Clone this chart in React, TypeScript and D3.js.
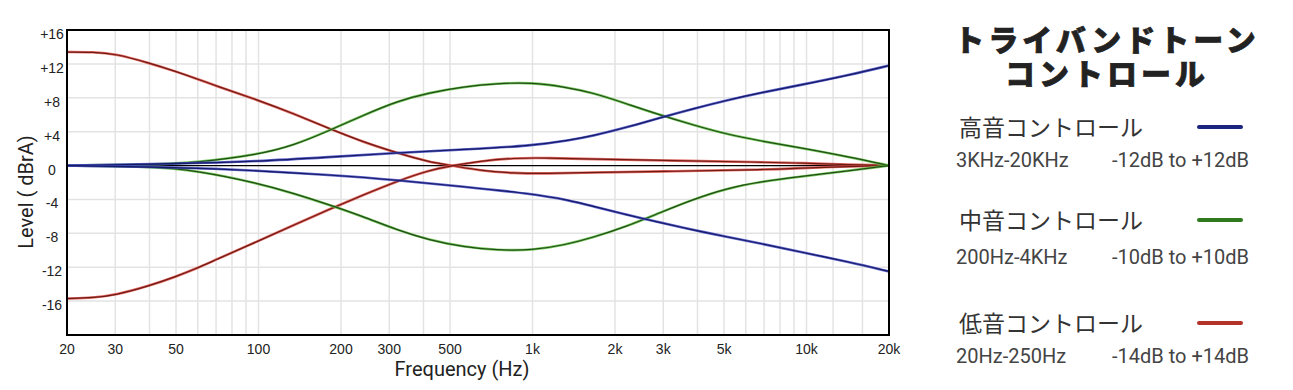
import { curveBasis, line as d3_line, scaleLinear, scaleLog } from "d3";
import type { FC } from "react";

// frequency axis
const freqTicks = [20, 30, 50, 100, 200, 300, 500, 1000, 2000, 3000, 5000, 10000, 20000];
const freqTickLabels = ["20", "30", "50", "100", "200", "300", "500", "1k", "2k", "3k", "5k", "10k", "20k"];
const gridFreqs = [
  30, 40, 50, 60, 70, 80, 90, 100, 200, 300, 400, 500, 1000, 2000, 3000, 4000,
  5000, 6000, 7000, 8000, 9000, 10000, 12500, 16000,
];

// level axis
const levelTicks = [16, 12, 8, 4, 0, -4, -8, -12, -16];
const levelTickLabels = ["+16", "+12", "+8", "+4", "0", "-4", "-8", "-12", "-16"];

// [Hz, dB]
const bassBoost: [number, number][] = [
  [20, 13.4], [25, 13.4], [30, 13.2], [40, 12.1], [50, 11.1], [60, 10.2], [70, 9.4],
  [100, 7.7], [135, 6.1], [180, 4.4], [240, 2.8], [320, 1.5], [420, 0.4],
  [510, 0], [640, -0.6], [850, -0.9], [1130, -0.95], [1400, -0.85], [3000, -0.7],
  [6800, -0.5], [9500, -0.3], [14400, -0.1], [20000, 0], [20000, 0],
];
const bassCut: [number, number][] = [
  [20, -15.7], [25, -15.6], [30, -15.3], [40, -14.2], [50, -13.1], [60, -12.1],
  [70, -11.1], [100, -8.9], [135, -7.0], [180, -5.2], [240, -3.5],
  [320, -1.85], [420, -0.55], [510, 0], [640, 0.5], [850, 0.9], [1130, 0.9],
  [1400, 0.8], [3000, 0.6], [6800, 0.4], [9500, 0.3], [14400, 0.1], [20000, 0], [20000, 0],
];
const midBoost: [number, number][] = [
  [20, 0], [20, 0], [40, 0.1], [60, 0.35], [100, 1.3], [135, 2.4], [180, 4.1],
  [240, 5.9], [320, 7.6], [420, 8.6], [560, 9.3], [740, 9.7], [1000, 9.8],
  [1300, 9.3], [1660, 8.6], [2200, 7.3], [2900, 6.0], [3850, 4.8],
  [5100, 3.7], [6800, 2.9], [9500, 2.1], [14400, 1.0], [20000, 0], [20000, 0],
];
const midCut: [number, number][] = [
  [20, 0], [20, 0], [40, -0.1], [60, -0.6], [100, -2.1], [135, -3.3], [180, -4.6],
  [240, -6.0], [320, -7.6], [420, -8.8], [560, -9.6], [740, -10.0], [1000, -10.0],
  [1300, -9.4], [1660, -8.5], [2200, -7.2], [2900, -5.6],
  [3850, -4.0], [5100, -2.7], [6800, -1.9], [9500, -1.3], [14400, -0.6], [20000, 0], [20000, 0],
];
const trebleBoost: [number, number][] = [
  [20, 0], [20, 0], [50, 0.2], [100, 0.5], [180, 1.0], [320, 1.5], [560, 1.9], [980, 2.3],
  [1370, 3.0], [1660, 3.5], [2200, 4.5], [2900, 5.6], [3850, 6.7],
  [5100, 7.7], [6800, 8.6], [9500, 9.5], [14400, 10.7], [20000, 11.8], [20000, 11.8],
];
const trebleCut: [number, number][] = [
  [20, 0], [20, 0], [50, -0.2], [100, -0.6], [180, -1.1], [320, -1.7], [560, -2.5], [980, -3.3],
  [1370, -4.1], [1660, -4.8], [2200, -5.8], [2900, -6.7], [3850, -7.6],
  [5100, -8.4], [6800, -9.2], [9500, -10.2], [14400, -11.4], [20000, -12.5], [20000, -12.5],
];

// legend
const titleLines = ["トライバンドトーン", "コントロール"];
const bandNames = ["高音コントロール", "中音コントロール", "低音コントロール"];
const bandRanges = ["3KHz-20KHz", "200Hz-4KHz", "20Hz-250Hz"];
const bandGains = ["-12dB to +12dB", "-10dB to +10dB", "-14dB to +14dB"];
const bandColors = ["#1c2580", "#2f7a1d", "#b3322a"];

const curveStyles = {
  blue: { halo: "#4248c0", core: "#151a66" },
  green: { halo: "#62c044", core: "#214d16" },
  red: { halo: "#dc5048", core: "#701a14" },
};

const curves = [
  { data: bassBoost, style: curveStyles.red },
  { data: bassCut, style: curveStyles.red },
  { data: midBoost, style: curveStyles.green },
  { data: midCut, style: curveStyles.green },
  { data: trebleBoost, style: curveStyles.blue },
  { data: trebleCut, style: curveStyles.blue },
];

const W = 1293;
const H = 390;
const plot = { left: 67, right: 889, top: 30, bottom: 335 };

const App: FC = () => {
  const x = scaleLog().domain([20, 20000]).range([plot.left, plot.right]);
  const y = scaleLinear().domain([-20, 16]).range([plot.bottom, plot.top]);

  const path = d3_line<[number, number]>()
    .x((d) => x(d[0]))
    .y((d) => y(d[1]))
    .curve(curveBasis);

  const tickFont = "'Liberation Sans', Arial, sans-serif";
  const titleFont = "Roboto, 'Noto Sans', sans-serif";
  const jpFont = "'Noto Sans CJK JP', 'Noto Sans', sans-serif";

  const itemY = [126, 219, 322];
  const rangeY = [160, 257, 356];

  return (
    <svg
      width={W}
      height={H}
      style={{ position: "absolute", left: 0, top: 0, background: "#fff" }}
    >
      {/* grid */}
      {gridFreqs.map((f) => (
        <line
          key={`gx${f}`}
          x1={x(f)}
          x2={x(f)}
          y1={plot.top}
          y2={plot.bottom}
          stroke="#e3e3e3"
          strokeWidth={1.5}
        />
      ))}
      {levelTicks
        .filter((v) => v !== 16 && v !== 0)
        .map((v) => (
          <line
            key={`gy${v}`}
            x1={plot.left}
            x2={plot.right}
            y1={y(v)}
            y2={y(v)}
            stroke="#e3e3e3"
            strokeWidth={1.5}
          />
        ))}
      <line x1={plot.left} x2={plot.right} y1={y(0)} y2={y(0)} stroke="#000" strokeWidth={1.3} />

      {/* curves */}
      {curves.map((c, i) => (
        <g key={i} fill="none">
          <path d={path(c.data) ?? ""} stroke={c.style.halo} strokeWidth={2.6} opacity={0.85} />
          <path d={path(c.data) ?? ""} stroke={c.style.core} strokeWidth={1.2} />
        </g>
      ))}

      {/* frame */}
      <rect
        x={plot.left}
        y={plot.top}
        width={plot.right - plot.left}
        height={plot.bottom - plot.top}
        fill="none"
        stroke="#000"
        strokeWidth={2}
      />

      {/* y ticks */}
      {levelTicks.map((v, i) => (
        <text
          key={`yt${v}`}
          x={52}
          y={y(v) + 4}
          textAnchor="middle"
          dominantBaseline="central"
          fontFamily={tickFont}
          fontSize={14}
          fill="#222"
        >
          {levelTickLabels[i]}
        </text>
      ))}
      {/* x ticks */}
      {freqTicks.map((f, i) => (
        <text
          key={`xt${f}`}
          x={x(f)}
          y={349}
          textAnchor="middle"
          dominantBaseline="central"
          fontFamily={tickFont}
          fontSize={14}
          fill="#222"
        >
          {freqTickLabels[i]}
        </text>
      ))}

      {/* axis titles */}
      <text
        x={462}
        y={376}
        textAnchor="middle"
        fontFamily={titleFont}
        fontSize={20}
        fill="#222"
      >
        Frequency (Hz)
      </text>
      <text
        transform="translate(33,192) rotate(-90)"
        textAnchor="middle"
        fontFamily={titleFont}
        fontSize={20}
        fill="#222"
      >
        Level ( dBrA)
      </text>

      {/* legend title */}
      {titleLines.map((t, i) => (
        <text
          key={t}
          x={1107}
          y={51 + i * 34}
          textAnchor="middle"
          fontFamily={jpFont}
          fontWeight={900}
          fontSize={30}
          letterSpacing={4}
          fill="#222"
          stroke="#222"
          strokeWidth={0.7}
        >
          {t}
        </text>
      ))}
      {bandNames.map((name, i) => (
        <g key={name}>
          <text
            x={959}
            y={itemY[i]}
            dominantBaseline="central"
            fontFamily={jpFont}
            fontSize={23}
            fill="#333"
          >
            {name}
          </text>
          <line
            x1={1199}
            x2={1241}
            y1={itemY[i] + 1}
            y2={itemY[i] + 1}
            stroke={bandColors[i]}
            strokeWidth={4}
            strokeLinecap="round"
          />
          <text
            x={956}
            y={rangeY[i]}
            dominantBaseline="central"
            fontFamily={titleFont}
            fontSize={20}
            fill="#444"
          >
            {bandRanges[i]}
          </text>
          <text
            x={1249}
            y={rangeY[i]}
            textAnchor="end"
            dominantBaseline="central"
            fontFamily={titleFont}
            fontSize={20}
            fill="#444"
          >
            {bandGains[i]}
          </text>
        </g>
      ))}
    </svg>
  );
};

export default App;
